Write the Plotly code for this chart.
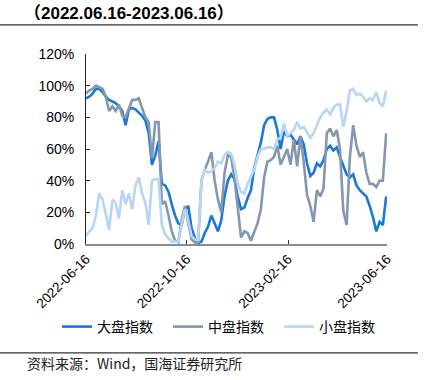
import plotly.graph_objects as go
import pandas as pd

# dates sampled every 4 calendar days
dates = pd.date_range("2022-06-16", periods=92, freq="4D")

large_cap = [92, 93, 95, 98, 98, 96, 93, 91, 90, 89, 87, 84, 75, 85, 86, 85, 83, 81, 78, 70,
             50, 56, 65, 38, 37, 33, 25, 18, 13, 12, 22, 24, 10, 4, 0.5, 1.5, 7, 11, 18, 13,
             8, 15, 30, 40, 44, 41, 30, 22, 23, 29, 34, 48, 56, 64, 75, 79, 80, 80, 72, 60,
             71, 68, 69, 66, 63, 68, 63, 51, 43, 45, 51, 49, 53, 60, 62, 59, 61, 55, 49, 44,
             42, 44, 37, 34, 32, 30, 24, 17, 8, 14, 12, 30]

mid_cap = [95, 97, 98, 100, 99, 98, 93, 84, 87, 84, 88, 81, 80, 86, 91, 91, 92, 86, 80, 77,
           54, 77, 77, 25, 27, 18, 8, 2, 1, 15, 24, 13, 3, 1, 1, 40, 47, 52, 58, 40,
           28, 20, 45, 56, 55, 42, 22, 4, 8, 7, 2, 8, 13, 22, 42, 52, 53, 55, 62, 50,
           55, 60, 50, 66, 49, 68, 52, 31, 24, 14, 34, 30, 35, 70, 73, 68, 72, 60, 21, 12,
           55, 75, 62, 55, 58, 45, 38, 38, 36, 40, 40, 70]

small_cap = [5, 8, 10, 18, 32, 28, 19, 9, 28, 26, 16, 34, 25, 32, 22, 37, 42, 32, 26, 12,
             40, 41, 41, 12, 6, 4, 1.5, 1.5, 1.5, 12, 22, 15, 5, 3, 2.5, 40, 47, 45, 46, 48,
             52, 51, 56, 58, 57, 50, 38, 33, 32, 38, 42, 47, 55, 60, 60, 61, 61, 60, 66, 67,
             76, 68, 70, 72, 77, 73, 74, 70, 67, 70, 75, 80, 83, 85, 82, 86, 88, 88, 74, 84,
             97, 98, 94, 95, 93, 90, 92, 91, 96, 89, 87, 97]

series_names = ["大盘指数", "中盘指数", "小盘指数"]
series_colors = ["#1A78D6", "#8497B0", "#B7D5F4"]
tick_dates = ["2022-06-16", "2022-10-16", "2023-02-16", "2023-06-16"]
y_ticks = [0, 20, 40, 60, 80, 100, 120]
y_labels = [f"{v}%" for v in y_ticks]

title_text = "（2022.06.16-2023.06.16）"
source_text = "资料来源：Wind，国海证券研究所"

fig = go.Figure()
for name, vals, col in zip(series_names, [large_cap, mid_cap, small_cap], series_colors):
    fig.add_trace(go.Scatter(x=dates, y=vals, mode="lines", name=name,
                             line=dict(color=col, width=2.6)))

font_main = "Arial, Liberation Sans, Noto Sans CJK SC, sans-serif"
cjk_font = "Noto Sans CJK SC, sans-serif"

# zero margins: the paper spans the whole page, the plot is placed through axis domains
fig.update_layout(
    width=433, height=380,
    margin=dict(l=0, r=0, t=0, b=0, autoexpand=False),
    paper_bgcolor="white", plot_bgcolor="white",
    font=dict(family=font_main, size=13, color="#000000"),
    showlegend=True,
    hovermode=False,
    legend=dict(orientation="h", x=0.1316, y=0.1395, xanchor="left", yanchor="middle",
                font=dict(family=cjk_font, size=14, color="#000"),
                itemwidth=30, entrywidth=66, entrywidthmode="pixels",
                bgcolor="rgba(0,0,0,0)"),
    xaxis=dict(
        type="date", domain=[0.19861, 0.89376], automargin=False,
        range=["2022-06-16", "2023-06-16"],
        tickvals=tick_dates, ticktext=tick_dates,
        tickangle=-45,
        showgrid=False, zeroline=False,
        showline=True, linecolor="#8C8C8C", linewidth=2,
        ticks="inside", ticklen=4, tickcolor="#333",
        tickfont=dict(size=13.5),
    ),
    yaxis=dict(
        domain=[0.35789, 0.85789], automargin=False,
        range=[0, 120], tickvals=y_ticks, ticktext=y_labels,
        showgrid=False, zeroline=False,
        showline=True, linecolor="#222", linewidth=1,
        ticks="inside", ticklen=4, tickcolor="#222",
        ticklabelstandoff=8,
        tickfont=dict(size=14),
    ),
)

fig.add_annotation(text="<b>" + title_text + "</b>", xref="paper", yref="paper",
                   x=0.0506, y=0.9639, xanchor="left", yanchor="middle", showarrow=False,
                   font=dict(size=17, family=font_main))
fig.add_annotation(text=source_text, xref="paper", yref="paper",
                   x=0.0575, y=0.0450, xanchor="left", yanchor="middle", showarrow=False,
                   font=dict(size=14, family=cjk_font, color="#222"))

# horizontal rules under the title and above the source note
for y_rule in [0.9345, 0.0713]:
    fig.add_shape(type="line", xref="paper", yref="paper", layer="above",
                  x0=0.0, x1=0.9654, y0=y_rule, y1=y_rule,
                  line=dict(color="#333333", width=1.2))

fig.write_html("out.html",
               config={"displayModeBar": False},
               post_script="document.body.style.margin='0';document.body.style.padding='0';")
